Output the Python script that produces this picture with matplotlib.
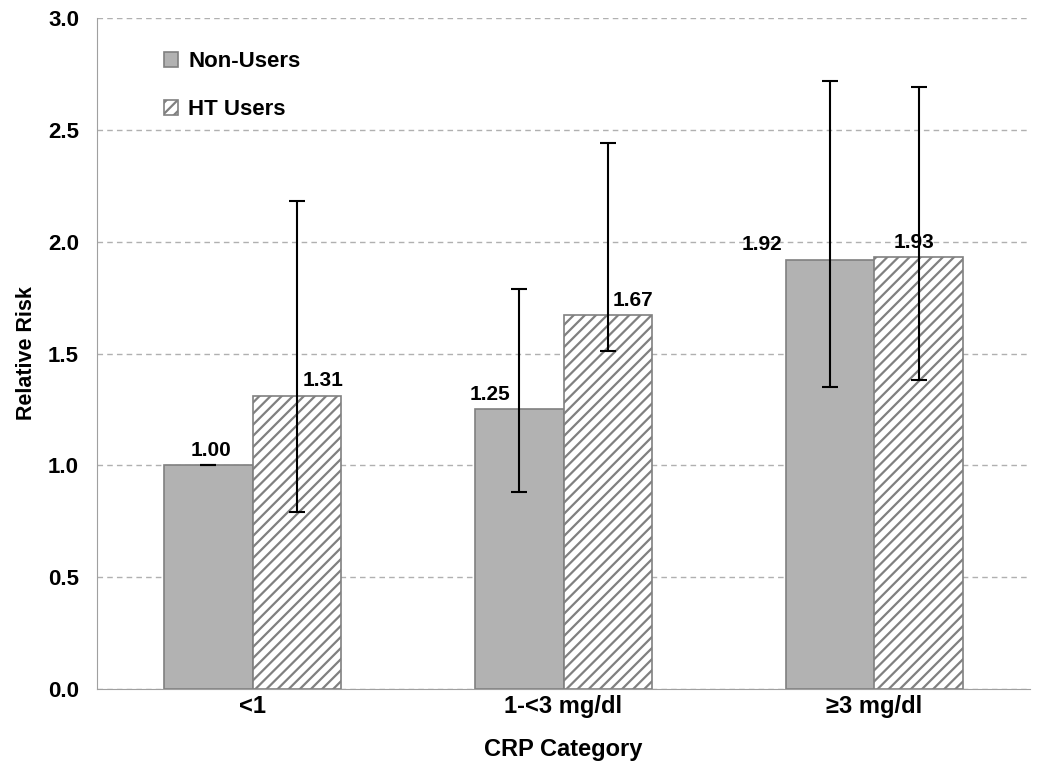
import matplotlib
matplotlib.use("Agg")
import matplotlib.pyplot as plt
import numpy as np

plt.rcParams['font.family'] = ['Liberation Sans', 'DejaVu Sans']
plt.rcParams['hatch.color'] = '#808080'
plt.rcParams['hatch.linewidth'] = 1.6

categories = ['<1', '1-<3 mg/dl', '≥3 mg/dl']
non_users = [1.00, 1.25, 1.92]
ht_users = [1.31, 1.67, 1.93]
non_lo = [1.00, 0.88, 1.35]
non_hi = [1.00, 1.79, 2.72]
ht_lo = [0.79, 1.51, 1.38]
ht_hi = [2.18, 2.44, 2.69]
labels_non = ['1.00', '1.25', '1.92']
labels_ht = ['1.31', '1.67', '1.93']

fig = plt.figure(figsize=(10.5, 7.77), dpi=100)
ax = fig.add_axes([97/1050, 1-689/777, 933/1050, (689-18)/777])

x = np.arange(len(categories))
w = 0.286
ax.bar(x - w/2, non_users, w, color='#b2b2b2', edgecolor='#808080', linewidth=1.2, label='Non-Users', zorder=2)
ax.bar(x + w/2, ht_users, w, color='white', edgecolor='#808080', hatch='///', linewidth=1.2, label='HT Users', zorder=2)

nx = x - w/2
hx = x + w/2
nu = np.array(non_users); hu = np.array(ht_users)
ax.errorbar(nx, nu, yerr=[nu - np.array(non_lo), np.array(non_hi) - nu], fmt='none',
            ecolor='black', elinewidth=1.5, capsize=6, capthick=1.5, zorder=3)
ax.errorbar(hx, hu, yerr=[hu - np.array(ht_lo), np.array(ht_hi) - hu], fmt='none',
            ecolor='black', elinewidth=1.5, capsize=6, capthick=1.5, zorder=3)

# value labels
dx_non = [0.01, -0.093, -0.22]
dx_ht = [0.084, 0.08, -0.016]
for i in range(len(x)):
    ax.text(nx[i] + dx_non[i], non_users[i] + 0.025, labels_non[i], ha='center', va='bottom',
            fontsize=15, fontweight='bold')
    ax.text(hx[i] + dx_ht[i], ht_users[i] + 0.025, labels_ht[i], ha='center', va='bottom',
            fontsize=15, fontweight='bold')

ax.set_xlim(-0.5, 2.5)
ax.set_ylim(0, 3.0)
ax.set_yticks(np.arange(0, 3.01, 0.5))
ax.set_yticklabels([f'{v:.1f}' for v in np.arange(0, 3.01, 0.5)], fontsize=16, fontweight='bold')
ax.set_xticks(x)
ax.set_xticklabels(categories, fontsize=17, fontweight='bold')
ax.tick_params(axis='x', length=0, pad=4)
ax.tick_params(axis='y', length=0, pad=13)
ax.yaxis.grid(True, linestyle=(0, (4, 3)), color='#b0b0b0', linewidth=1)
ax.set_axisbelow(True)
for s in ['top', 'right']:
    ax.spines[s].set_visible(False)
ax.spines['left'].set_color('#a0a0a0')
ax.spines['bottom'].set_color('#a0a0a0')
ax.set_xlabel('CRP Category', fontsize=17, fontweight='bold', labelpad=15)
ax.set_ylabel('Relative Risk', fontsize=15.5, fontweight='bold', labelpad=8)

ax.legend(loc='upper left', bbox_to_anchor=(0.05, 0.98), frameon=False,
          prop={'size': 16, 'weight': 'bold'}, handlelength=0.65, handleheight=0.65,
          labelspacing=1.2, handletextpad=0.45)

fig.savefig('out.png', dpi=100)
